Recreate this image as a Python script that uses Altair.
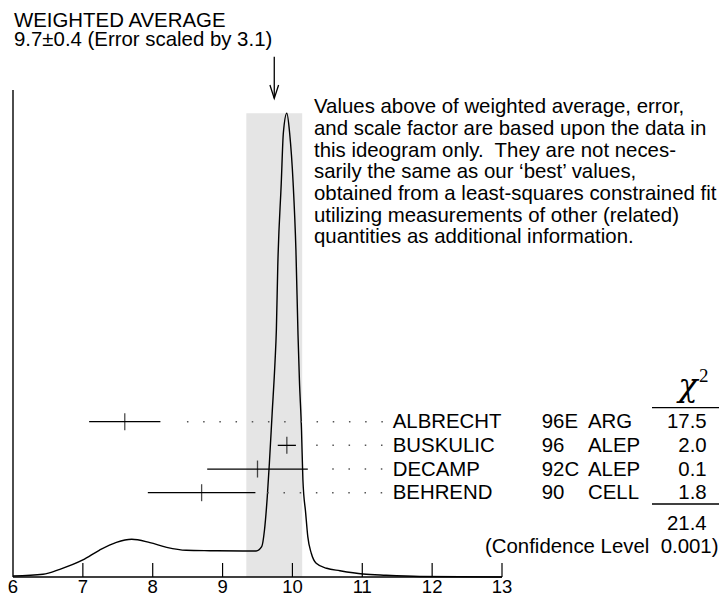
import altair as alt
import pandas as pd

names = ["ALBRECHT", "BUSKULIC", "DECAMP", "BEHREND"]
years = ["96E", "96", "92C", "90"]
exps = ["ARG", "ALEP", "ALEP", "CELL"]
values = [7.60, 9.92, 9.50, 8.70]
errors = [0.51, 0.13, 0.72, 0.77]
chi2 = ["17.5", "2.0", "0.1", "1.8"]
dots_from = [8.49, 10.34, 10.57, 9.64]
dots_to = 11.30

avg = 9.74
avg_err = 0.40
scale_factor = "3.1"
chi2_total = "21.4"
conf_level = "0.001"

curve_x = [6.00, 6.43, 6.67, 7.00, 7.24, 7.48, 7.70, 7.96, 8.20, 8.48, 8.82, 9.29,
           9.48, 9.56, 9.60, 9.64, 9.67, 9.71, 9.75, 9.77, 9.79, 9.84, 9.87, 9.92,
           9.96, 10.01, 10.05, 10.08, 10.10, 10.13, 10.15, 10.19, 10.22, 10.27,
           10.34, 10.49, 10.68, 11.01, 11.34, 11.82, 13.00]
curve_h = [0.2, 0.58, 1.66, 3.67, 5.82, 7.48, 8.13, 7.40, 6.40, 5.76, 5.67, 5.61,
           5.61, 6.53, 10.13, 17.31, 24.51, 35.36, 46.14, 53.26, 66.90, 84.89, 95.73, 99.98,
           95.73, 84.95, 70.50, 52.18, 42.48, 31.69, 20.91, 13.73, 8.69, 5.11,
           2.95, 1.88, 1.36, 0.65, 0.37, 0.11, 0.0]

ticks = [6, 7, 8, 9, 10, 11, 12, 13]

paragraph = ("Values above of weighted average, error,\n"
             "and scale factor are based upon the data in\n"
             "this ideogram only.\u00a0 They are not neces-\n"
             "sarily the same as our \u2018best\u2019 values,\n"
             "obtained from a least-squares constrained fit\n"
             "utilizing measurements of other (related)\n"
             "quantities as additional information.")

W, H = 489, 487
FONT = "Liberation Sans"
FS = 20.4

xs = alt.Scale(domain=[ticks[0], ticks[-1]], nice=False, zero=False)
ys = alt.Scale(domain=[0, 105], nice=False, zero=False)
rows = alt.Scale(type="point", domain=names, range=[331.7, 402.7], padding=0)

meas = pd.DataFrame({"name": names, "year": years, "exp": exps, "v": values,
                     "e": errors, "chi2": chi2, "d0": dots_from})
meas["lo"] = meas["v"] - meas["e"]
meas["hi"] = meas["v"] + meas["e"]
meas["d1"] = dots_to

curve = pd.DataFrame({"x": curve_x, "h": curve_h})
peak = max(curve_h)
band = pd.DataFrame({"lo": [avg - avg_err], "hi": [avg + avg_err], "b": [0], "t": [peak]})
tickdf = pd.DataFrame({"t": ticks})
one = pd.DataFrame({"a": [avg]})

def X(f):
    return alt.X(f, type="quantitative", scale=xs, axis=None)

def Y(f):
    return alt.Y(f, type="quantitative", scale=ys, axis=None)

def R():
    return alt.Y("name:N", scale=rows, axis=None)

band_l = alt.Chart(band).mark_rect(color="#e5e5e5").encode(
    x=X("lo"), x2="hi", y=Y("b"), y2="t")

curve_l = alt.Chart(curve).mark_line(interpolate="monotone", color="black",
                                     strokeWidth=1.4).encode(x=X("x"), y=Y("h"))

frame = pd.DataFrame({"x0": [ticks[0]], "x1": [ticks[-1]], "y0": [0], "y1": [105]})
xaxis_l = alt.Chart(frame).mark_rule(color="black", strokeWidth=1.4).encode(
    x=X("x0"), x2="x1", y=Y("y0"))
yaxis_l = alt.Chart(frame).mark_rule(color="black", strokeWidth=1.4).encode(
    x=X("x0"), y=Y("y0"), y2="y1")
ticks_l = alt.Chart(tickdf[tickdf.t > ticks[0]]).mark_rule(color="black", strokeWidth=1.2).encode(
    x=X("t"), y=alt.value(H), y2=alt.value(H - 14))
ticklab_l = alt.Chart(tickdf).mark_text(font=FONT, fontSize=18.5, baseline="alphabetic",
                                        align="center", color="black").encode(
    x=X("t"), y=alt.value(503), text="t:Q")

bars_l = alt.Chart(meas).mark_rule(color="black", strokeWidth=1.3).encode(
    x=X("lo"), x2="hi", y=R())
cent_l = alt.Chart(meas).mark_tick(color="black", thickness=1.3, size=17).encode(
    x=X("v"), y=R())
dots_l = alt.Chart(meas).mark_rule(color="#555555", strokeWidth=1.5,
                                   strokeDash=[1.5, 14.7]).encode(
    x=X("d0"), x2="d1", y=R())

def col(field, xpix, align="left"):
    return alt.Chart(meas).mark_text(font=FONT, fontSize=FS, align=align,
                                     baseline="alphabetic", dy=6.6, color="black").encode(
        x=alt.value(xpix), y=R(), text=f"{field}:N")

name_l = col("name", 379.7)
year_l = col("year", 528.7)
exp_l = col("exp", 575)
chi_l = col("chi2", 693.7, "right")

def txt(s, xpix, ypix, align="left", size=FS, font=FONT, **kw):
    return alt.Chart(pd.DataFrame({"s": [s]})).mark_text(
        font=font, fontSize=size, align=align, baseline="alphabetic",
        color="black", **kw).encode(x=alt.value(xpix), y=alt.value(ypix), text="s:N")

title1 = txt("WEIGHTED AVERAGE", 1, -62.7)
title2 = txt(f"{avg:.1f}\u00b1{avg_err:.1f} (Error scaled by {scale_factor})", 1, -44)
para_l = txt(paragraph, 301, 23.3, lineBreak="\n", lineHeight=21.7)
chihead = txt("\u03c7", 675, 306, align="center", size=32, font="DejaVu Serif",
              fontStyle="italic")
chisup = txt("2", 686, 292, size=19, font="Liberation Serif")
total_l = txt(chi2_total, 693.7, 440, align="right")
conf_l = txt(f"(Confidence Level\u00a0 {conf_level})", 705.5, 462.5, align="right")

line1 = alt.Chart(one).mark_rule(color="black", strokeWidth=1.3).encode(
    x=alt.value(639), x2=alt.value(706), y=alt.value(317.7))
line2 = alt.Chart(one).mark_rule(color="black", strokeWidth=1.3).encode(
    x=alt.value(639), x2=alt.value(706), y=alt.value(414))

shaft = alt.Chart(one).mark_rule(color="black", strokeWidth=1.3).encode(
    x=X("a"), y=alt.value(-33.3), y2=alt.value(8.3))
head = alt.Chart(one).mark_point(shape="M -0.65 -1 L 0 1 L 0.65 -1", filled=False,
                                 size=177, color="black", strokeWidth=1.3, opacity=1).encode(
    x=X("a"), y=alt.value(1.7))

chart = alt.layer(
    band_l, curve_l, xaxis_l, yaxis_l, ticks_l, ticklab_l,
    dots_l, bars_l, cent_l, name_l, year_l, exp_l, chi_l,
    title1, title2, para_l, chihead, chisup, total_l, conf_l, line1, line2, shaft, head
).resolve_scale(y="independent").properties(
    width=W, height=H,
    padding={"left": 5, "top": 82, "right": 217, "bottom": 20},
    autosize=alt.AutoSizeParams(type="none"),
    background="white",
).configure_view(stroke=None)

chart.save("out.html", embed_options={"renderer": "svg", "actions": False})
